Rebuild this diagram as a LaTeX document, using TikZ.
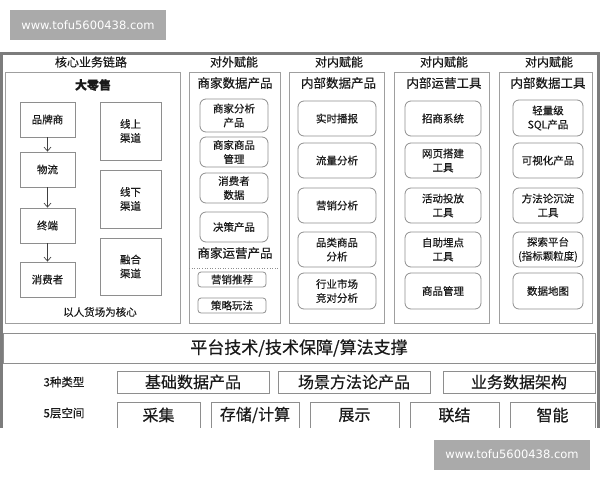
\documentclass[tikz,border=0pt]{standalone}
\usepackage{fontspec}
\setmainfont{Noto Sans CJK SC}[FakeBold=0.4]
\newfontfamily\wmfont{DejaVu Sans}
\usetikzlibrary{arrows.meta}
\definecolor{lc}{HTML}{8E8E8E}
\definecolor{fc}{HTML}{7C7C7C}
\definecolor{tc}{HTML}{1A1A1A}
\definecolor{wm}{HTML}{AAAAAA}
\tikzset{
  sq/.style={draw=lc, line width=0.8pt, align=center, inner sep=0pt, text=tc,
    font=\fontsize{10.5}{14}\selectfont},
  rb/.style={sq, rounded corners=6pt},
  panel/.style={draw=lc!85, line width=0.8pt},
  ttl/.style={text=tc, inner sep=0pt, font=\fontsize{12}{14}\selectfont},
  hdr/.style={text=tc, inner sep=0pt, font=\fontsize{12.5}{15}\selectfont},
  big/.style={sq, font=\fontsize{16}{18}\selectfont},
  lbl/.style={text=tc, inner sep=0pt, font=\fontsize{11.5}{14}\selectfont},
  arr/.style={draw=black!75, line width=0.7pt, -{Straight Barb[length=4pt,width=7pt]}},
  wmark/.style={fill=wm, text=white, inner sep=0pt, minimum height=30pt,
    font=\wmfont\fontsize{11.5}{13}\selectfont}
}
\begin{document}
\begin{tikzpicture}[x=1pt,y=-1pt]
\useasboundingbox (0,0) rectangle (600,480);
% watermarks
\node[wmark, minimum width=156pt] (wm1) at (88,25) {www.tofu5600438.com};
\node[wmark, minimum width=156pt] (wm2) at (512,454.5) {www.tofu5600438.com};

\begin{scope}
\clip (0,0) rectangle (600,427);
% outer frame
\draw[fc, line width=3pt] (1.5,430) -- (1.5,53) -- (598.5,53) -- (598.5,430);

% column titles
\node[ttl] (t1) at (91,62) {核心业务链路};
\node[ttl] (t2) at (234,62) {对外赋能};
\node[ttl] (t3) at (339,62) {对内赋能};
\node[ttl] (t4) at (444,62) {对内赋能};
\node[ttl] (t5) at (549,62) {对内赋能};

% panels
\draw[panel] (5,72) rectangle (180,323);
\draw[panel] (189,72) rectangle (280,323);
\draw[panel] (289,72) rectangle (384,323);
\draw[panel] (394,72) rectangle (489,323);
\draw[panel] (499,72) rectangle (592,323);

% column 1
\node[hdr, font=\fontsize{12}{14}\selectfont\bfseries] (h1) at (93,85) {大零售};
\node[sq, minimum width=55pt, minimum height=35pt] (a1) at (47.5,119.5) {品牌商};
\node[sq, minimum width=55pt, minimum height=35pt] (a2) at (47.5,169.5) {物流};
\node[sq, minimum width=55pt, minimum height=35pt] (a3) at (47.5,225.5) {终端};
\node[sq, minimum width=55pt, minimum height=35pt] (a4) at (47.5,279.5) {消费者};
\draw[arr] (a1) -- (a2);
\draw[arr] (a2) -- (a3);
\draw[arr] (a3) -- (a4);
\node[sq, minimum width=61pt, minimum height=58pt] (c1) at (130.5,131) {线上\\渠道};
\node[sq, minimum width=61pt, minimum height=58pt] (c2) at (130.5,199) {线下\\渠道};
\node[sq, minimum width=61pt, minimum height=57pt] (c3) at (130.5,266.5) {融合\\渠道};
\node[lbl, font=\fontsize{10.5}{13}\selectfont] (core) at (100,312) {以人货场为核心};

% column 2
\node[hdr] (h2) at (235,83) {商家数据产品};
\node[rb, minimum width=68pt, minimum height=33pt] (m1) at (234,115.5) {商家分析\\产品};
\node[rb, minimum width=68pt, minimum height=30pt] (m2) at (234,152) {商家商品\\管理};
\node[rb, minimum width=68pt, minimum height=30pt] (m3) at (234,188) {消费者\\数据};
\node[rb, minimum width=68pt, minimum height=30pt] (m4) at (234,227) {决策产品};
\node[hdr] (h2b) at (235,253) {商家运营产品};
\draw[lc, dotted, line width=0.6pt] (189,268) -- (280,268);
\node[rb, rounded corners=3pt, minimum width=68pt, minimum height=15pt] (o1) at (232,279.5) {营销推荐};
\node[rb, rounded corners=3pt, minimum width=68pt, minimum height=15pt] (o2) at (232,305.5) {策略玩法};

% column 3
\node[hdr] (h3) at (338.5,83) {内部数据产品};
\node[rb, minimum width=78pt, minimum height=35pt] (p1) at (337,118.5) {实时播报};
\node[rb, minimum width=78pt, minimum height=35pt] (p2) at (337,160.5) {流量分析};
\node[rb, minimum width=78pt, minimum height=35pt] (p3) at (337,205.5) {营销分析};
\node[rb, minimum width=78pt, minimum height=35pt] (p4) at (337,249.5) {品类商品\\分析};
\node[rb, minimum width=78pt, minimum height=36pt] (p5) at (337,291) {行业市场\\竞对分析};

% column 4
\node[hdr] (h4) at (444,83) {内部运营工具};
\node[rb, minimum width=76pt, minimum height=35pt] (q1) at (443,118.5) {招商系统};
\node[rb, minimum width=76pt, minimum height=35pt] (q2) at (443,160.5) {网页搭建\\工具};
\node[rb, minimum width=76pt, minimum height=35pt] (q3) at (443,205.5) {活动投放\\工具};
\node[rb, minimum width=76pt, minimum height=35pt] (q4) at (443,249.5) {自助埋点\\工具};
\node[rb, minimum width=76pt, minimum height=36pt] (q5) at (443,291) {商品管理};

% column 5
\node[hdr] (h5) at (548,83) {内部数据工具};
\node[rb, minimum width=70pt, minimum height=36pt] (r1) at (548,118) {轻量级\\SQL产品};
\node[rb, minimum width=70pt, minimum height=35pt] (r2) at (548,160.5) {可视化产品};
\node[rb, minimum width=70pt, minimum height=35pt] (r3) at (548,205.5) {方法论沉淀\\工具};
\node[rb, minimum width=70pt, minimum height=35pt] (r4) at (548,249.5) {探索平台\\(指标颗粒度)};
\node[rb, minimum width=70pt, minimum height=36pt] (r5) at (548,291) {数据地图};

% bottom
\node[big, minimum width=592pt, minimum height=30pt, font=\fontsize{17}{19}\selectfont] (plat) at (299,348) {平台技术/技术保障/算法支撑};
\node[lbl] (l3) at (64,382) {3种类型};
\node[big, minimum width=152pt, minimum height=22pt] (k1) at (193,382) {基础数据产品};
\node[big, minimum width=152pt, minimum height=22pt] (k2) at (354,382) {场景方法论产品};
\node[big, minimum width=152pt, minimum height=22pt] (k3) at (519,382) {业务数据架构};
\node[lbl] (l5) at (64,413) {5层空间};
\node[big, minimum width=83pt, minimum height=26pt] (s1) at (158.5,415) {采集};
\node[big, minimum width=88pt, minimum height=26pt] (s2) at (255,415) {存储/计算};
\node[big, minimum width=89pt, minimum height=26pt] (s3) at (354.5,415) {展示};
\node[big, minimum width=89pt, minimum height=26pt] (s4) at (454.5,415) {联结};
\node[big, minimum width=85pt, minimum height=26pt] (s5) at (552.5,415) {智能};
\end{scope}
\end{tikzpicture}
\end{document}
